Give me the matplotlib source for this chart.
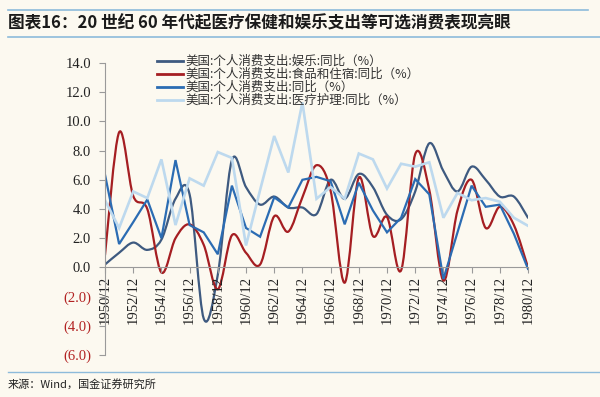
import matplotlib
matplotlib.use("Agg")
import matplotlib.pyplot as plt
import numpy as np
from matplotlib.path import Path
from matplotlib.patches import PathPatch
from matplotlib.lines import Line2D

plt.rcParams['font.family'] = ['Noto Sans CJK SC', 'DejaVu Sans']

years = list(range(1950, 1981))
xtick_years = list(range(1950, 1981, 2))
xtick_labels = [f"{y}/12" for y in xtick_years]
ytick_values = [14, 12, 10, 8, 6, 4, 2, 0, -2, -4, -6]
ytick_labels = ["14.0", "12.0", "10.0", "8.0", "6.0", "4.0", "2.0", "0.0", "(2.0)", "(4.0)", "(6.0)"]

labels = [
    "美国:个人消费支出:娱乐:同比（%）",
    "美国:个人消费支出:食品和住宿:同比（%）",
    "美国:个人消费支出:同比（%）",
    "美国:个人消费支出:医疗护理:同比（%）",
]

recreation = [0.2, 1.0, 1.7, 1.2, 1.9, 4.7, 5.0, -3.5, -0.5, 7.35,
              5.5, 4.3, 4.85, 4.1, 4.1, 3.65, 6.0, 4.7, 6.4, 5.5,
              3.6, 3.3, 5.2, 8.5, 6.6, 5.2, 6.9, 6.0, 4.85, 4.85, 3.4]
food_housing = [0.85, 9.25, 4.9, 4.0, -0.35, 2.0, 2.95, 1.55, -1.5, 2.2,
                1.0, 0.2, 3.5, 2.45, 4.8, 7.0, 5.25, -1.05, 6.15, 2.15,
                3.45, -0.2, 7.75, 5.3, -0.9, 3.9, 6.0, 2.7, 4.15, 2.9, 0.0]
total_pce = [6.35, 1.6, 3.1, 4.65, 2.0, 7.35, 2.9, 2.4, 0.9, 5.6,
             2.7, 2.1, 4.8, 4.1, 6.0, 6.2, 5.9, 2.95, 5.8, 3.9,
             2.4, 3.4, 6.05, 5.0, -0.8, 2.4, 5.6, 4.15, 4.3, 2.3, -0.1]
medical = [4.6, 2.7, 5.2, 4.75, 7.4, 2.9, 6.1, 5.6, 7.9, 7.5,
           1.5, 5.3, 9.0, 6.5, 11.3, 4.7, 5.5, 4.7, 7.8, 7.4,
           5.4, 7.1, 6.9, 7.2, 3.4, 5.1, 4.6, 4.75, 4.5, 3.4, 2.85]

colors = ['#3E5A80', '#A51E22', '#2B6CB3', '#BDD9EE']
bg = '#FCF9F0'

W, H = 600.0, 397.0


def fx(px):
    return px / W


def fy(py):
    return 1 - py / H


def smooth_path(xs, ys):
    xs = np.asarray(xs, float)
    ys = np.asarray(ys, float)
    n = len(xs)
    verts = [(xs[0], ys[0])]
    codes = [Path.MOVETO]
    for i in range(n - 1):
        p0 = i - 1 if i > 0 else i
        p3 = i + 2 if i + 2 < n else i + 1
        c1 = (xs[i] + (xs[i + 1] - xs[p0]) / 6.0, ys[i] + (ys[i + 1] - ys[p0]) / 6.0)
        c2 = (xs[i + 1] - (xs[p3] - xs[i]) / 6.0, ys[i + 1] - (ys[p3] - ys[i]) / 6.0)
        verts += [c1, c2, (xs[i + 1], ys[i + 1])]
        codes += [Path.CURVE4] * 3
    return Path(verts, codes)


fig = plt.figure(figsize=(6.0, 3.97), dpi=100, facecolor=bg)
ax = fig.add_axes([0.175, 0.1058, 0.705, 0.7355])
ax.set_facecolor(bg)

series = [recreation, food_housing, total_pce, medical]
smooth = [True, True, False, False]
widths = [1.6, 1.6, 1.6, 1.9]
for s, c, sm, lw in zip(series, colors, smooth, widths):
    if sm:
        patch = PathPatch(smooth_path(years, s), fill=False, edgecolor=c, lw=lw,
                          capstyle='round', joinstyle='round')
        ax.add_patch(patch)
    else:
        ax.plot(years, s, color=c, lw=lw, solid_joinstyle='miter')

ax.set_xlim(1950, 1980)
ax.set_ylim(-6, 14)

for sp in ['top', 'right']:
    ax.spines[sp].set_visible(False)
ax.spines['left'].set_color('#9A9A9A')
ax.spines['bottom'].set_color('#9A9A9A')
ax.spines['bottom'].set_position(('data', 0))
ax.spines['left'].set_linewidth(0.8)
ax.spines['bottom'].set_linewidth(0.8)

ax.set_yticks(ytick_values)
ax.set_yticklabels(ytick_labels, family='Liberation Serif', fontsize=10.5, color='#222222')
for t, v in zip(ax.get_yticklabels(), ytick_values):
    if v < 0:
        t.set_color('#B22222')
ax.tick_params(axis='y', direction='out', length=4, color='#9A9A9A', pad=6)

ax.set_xticks(xtick_years)
ax.set_xticklabels(xtick_labels, family='Liberation Serif', fontsize=10.5,
                   rotation=90, color='#222222')
ax.tick_params(axis='x', direction='out', length=4, color='#9A9A9A', pad=2)

# Manual legend (compact rows like the reference)
row_y = [61, 74, 87, 100]
for lab, c, ry in zip(labels, colors, row_y):
    fig.add_artist(Line2D([fx(157), fx(183)], [fy(ry)] * 2, color=c, lw=2.0,
                          transform=fig.transFigure))
    fig.text(fx(185), fy(ry), lab, fontsize=9, va='center', ha='left', color='#333333')

# Title and rules
line_color = '#8DBBDB'
fig.add_artist(Line2D([fx(8), fx(588)], [fy(10)] * 2, color=line_color, lw=1.2,
                      transform=fig.transFigure))
fig.add_artist(Line2D([fx(8), fx(600)], [fy(37)] * 2, color=line_color, lw=1.2,
                      transform=fig.transFigure))
fig.text(fx(8), fy(23.5), "图表16：20 世纪 60 年代起医疗保健和娱乐支出等可选消费表现亮眼",
         fontsize=12, fontweight='bold', style='italic', va='center', ha='left',
         color='#1A1A1A')

fig.add_artist(Line2D([fx(8), fx(600)], [fy(372)] * 2, color=line_color, lw=1.0,
                      transform=fig.transFigure))
fig.text(fx(8), fy(384), "来源：Wind，国金证券研究所", fontsize=8, va='center',
         ha='left', color='#222222')

fig.savefig('out.png', dpi=100, facecolor=bg)
